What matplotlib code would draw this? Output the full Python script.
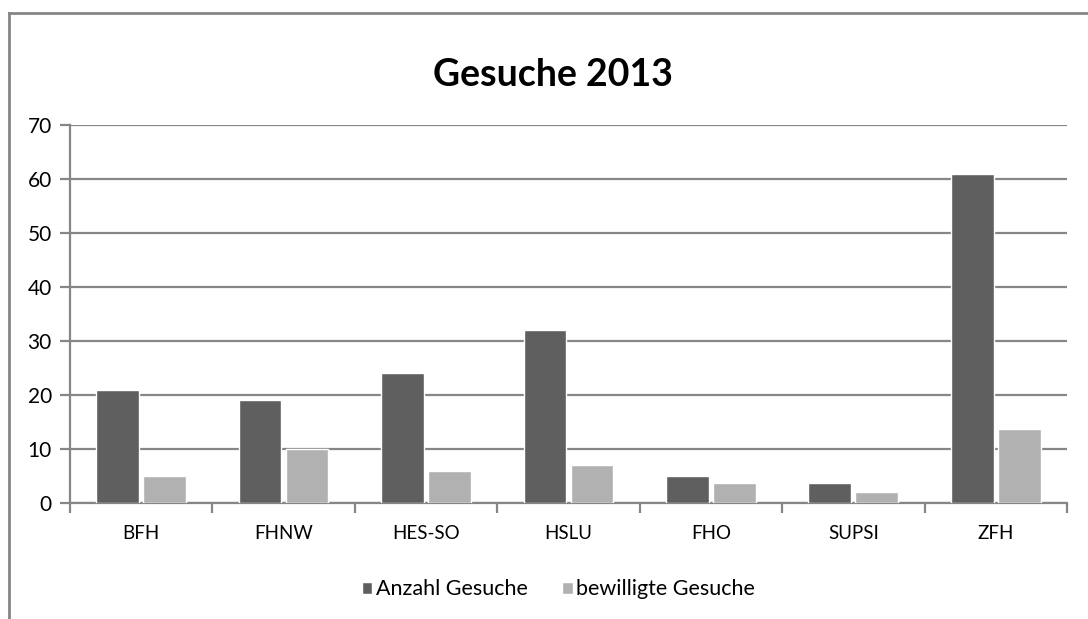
import numpy as np
import matplotlib.pyplot as plt
from matplotlib.lines import Line2D

# Daten
kategorien = ["BFH", "FHNW", "HES-SO", "HSLU", "FHO", "SUPSI", "ZFH"]
anzahl_gesuche = [21, 19, 24, 32, 5, 3.7, 61]
bewilligte_gesuche = [5, 10, 6, 7, 3.7, 2, 13.7]

plt.rcParams['font.family'] = ['Lato', 'DejaVu Sans']

fig = plt.figure(figsize=(10.88, 6.19), dpi=100)
ax = fig.add_axes([0.0643, 0.1874, 0.9164, 0.6106])

x = np.arange(len(kategorien))
w = 0.30
dunkel = '#5f5f5f'
hell = '#b1b1b1'
ax.bar(x - 0.165, anzahl_gesuche, w, color=dunkel, edgecolor='white', linewidth=1, label='Anzahl Gesuche', zorder=3)
ax.bar(x + 0.165, bewilligte_gesuche, w, color=hell, edgecolor='white', linewidth=1, label='bewilligte Gesuche', zorder=3)

ax.set_xlim(-0.5, len(kategorien) - 0.5)
ax.set_ylim(0, 70)
ax.set_yticks(range(0, 71, 10))
ax.yaxis.grid(True, color='#868686', linewidth=1.6, zorder=0)
ax.set_axisbelow(True)

for s in ['top', 'right']:
    ax.spines[s].set_visible(False)
for s in ['left', 'bottom']:
    ax.spines[s].set_color('#868686')
    ax.spines[s].set_linewidth(1.6)

# Kategorien zwischen den Ticks
ax.set_xticks(np.arange(-0.5, len(kategorien), 1.0))
ax.set_xticklabels([])
ax.set_xticks(x, minor=True)
ax.set_xticklabels(kategorien, minor=True, fontsize=13.5)
ax.tick_params(axis='x', which='minor', length=0, pad=16)
ax.tick_params(axis='x', which='major', length=7, width=1.6, color='#868686')
ax.tick_params(axis='y', length=7, width=1.6, color='#868686', labelsize=15, pad=6)

fig.text(0.508, 0.879, 'Gesuche 2013', ha='center', va='center', fontsize=27, fontweight='bold')

leg = fig.legend(loc='center', bbox_to_anchor=(0.513, 0.048), ncol=2, frameon=False,
                 fontsize=15.5, handlelength=0.5, handleheight=0.5, handletextpad=0.15,
                 columnspacing=1.6)

# Rahmen
fig.add_artist(Line2D([9 / 1088, 9 / 1088], [0, 1 - 13 / 619], color='#868686', linewidth=2, transform=fig.transFigure))
fig.add_artist(Line2D([9 / 1088, 1], [1 - 13 / 619, 1 - 13 / 619], color='#868686', linewidth=2, transform=fig.transFigure))

fig.savefig('out.png', dpi=100)
